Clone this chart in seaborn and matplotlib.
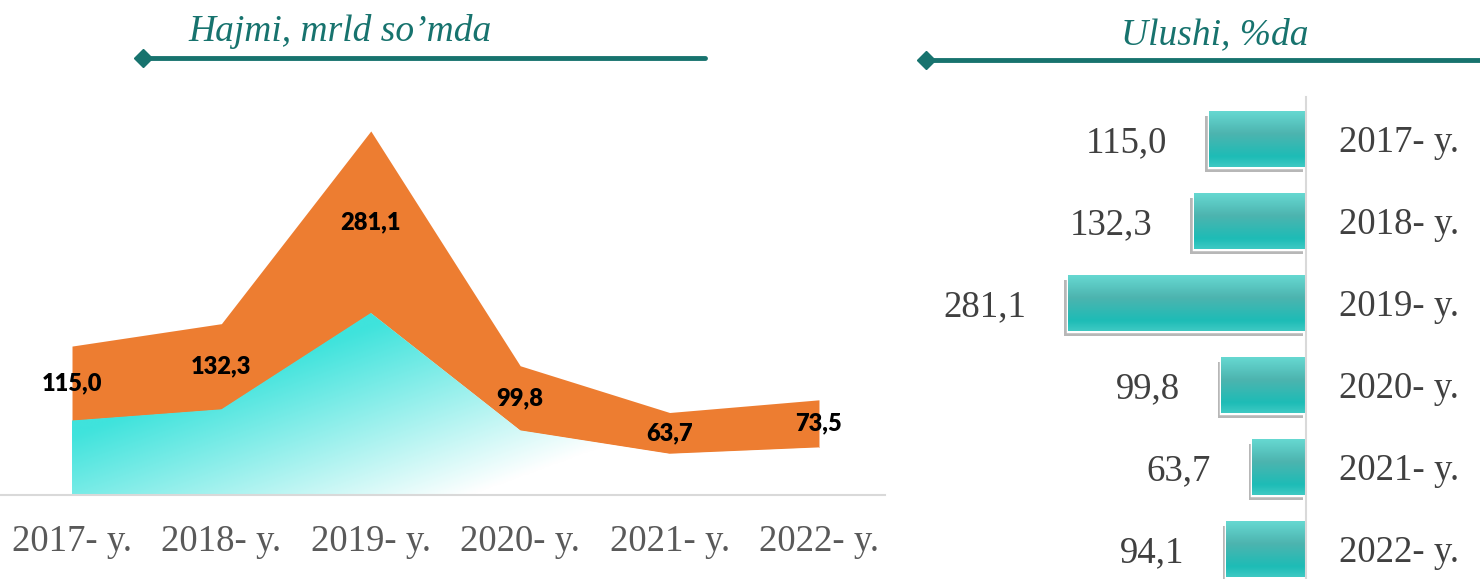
import numpy as np
import pandas as pd
import matplotlib
matplotlib.use("Agg")
import matplotlib.pyplot as plt
import seaborn as sns
from matplotlib.lines import Line2D
from matplotlib import patheffects as pe
from matplotlib.colors import to_rgb, LinearSegmentedColormap

# --- data ---
years = ['2017- y.', '2018- y.', '2019- y.', '2020- y.', '2021- y.', '2022- y.']
volume = [115.0, 132.3, 281.1, 99.8, 63.7, 73.5]
volume_labels = ['115,0', '132,3', '281,1', '99,8', '63,7', '73,5']
share = [115.0, 132.3, 281.1, 99.8, 63.7, 94.1]
share_labels = ['115,0', '132,3', '281,1', '99,8', '63,7', '94,1']
title_left = 'Hajmi, mrld so’mda'
title_right = 'Ulushi, %da'

# --- style ---
TEAL = '#17736e'
ORANGE = '#ED7D31'
CYAN = '#3fe3dc'
BAR = '#2cbdb7'
W, H = 1480, 579

sns.set_theme(style='white')
plt.rcParams['font.family'] = ['Liberation Serif', 'DejaVu Serif']

fig = plt.figure(figsize=(W / 100, H / 100), dpi=100, facecolor='white')

# --- left: stacked area ---
ax1 = fig.add_axes([0, 84 / H, 885 / W, 395 / H])
x = np.arange(len(years))
polys = ax1.stackplot(x, volume, volume, colors=[CYAN, ORANGE], linewidth=0)
polys[0].set_facecolor('none')

# diagonal cyan -> white gradient clipped to the lower area
ymax = max(volume)
nx, ny = 400, 200
u = np.linspace(0, 1, nx)[None, :]
v = 1 - np.linspace(0, 1, ny)[:, None]
s = 0.6 * u + 0.4 * v
f = np.clip((s - 0.27) / 0.45, 0, 1)[..., None]
rgb = np.array(to_rgb(CYAN))[None, None, :] * (1 - f) + f
im = ax1.imshow(rgb, extent=[x[0], x[-1], 0, ymax], origin='lower',
                aspect='auto', interpolation='bilinear', zorder=1)
im.set_clip_path(polys[0].get_paths()[0], ax1.transData)

for i, (val, lbl) in enumerate(zip(volume, volume_labels)):
    ax1.text(i, val * 1.5, lbl, ha='center', va='center', fontsize=17,
             fontweight='heavy', family=['Lato', 'DejaVu Sans'], color='black', zorder=5)

ax1.set_xlim(-0.482, 5.442)
ax1.set_ylim(0, 610)
ax1.set_xticks(x, years)
ax1.set_yticks([])
ax1.tick_params(axis='x', length=0, pad=21, labelsize=26.5, labelcolor='#595959')
for side in ['top', 'left', 'right']:
    ax1.spines[side].set_visible(False)
ax1.spines['bottom'].set_color('#d9d9d9')
ax1.spines['bottom'].set_linewidth(1.5)

# --- right: horizontal bars ---
ax2 = fig.add_axes([(1306 - 376) / W, 0, 376 / W, 482 / H])
df = pd.DataFrame({'year': years, 'share': share})
sns.barplot(data=df, x='share', y='year', orient='h', color=BAR, width=0.68,
            edgecolor='white', linewidth=2.5, saturation=1, ax=ax2)

bar_cmap = LinearSegmentedColormap.from_list(
    'bar', [(0, '#66d8d1'), (0.4, '#4db4af'), (0.82, '#1dbcb6'), (1, '#3ec9c3')])
grad = bar_cmap(np.linspace(0, 1, 64))[:, None, :3]
for p in ax2.patches:
    p.set_path_effects([pe.SimplePatchShadow(offset=(-2.5, -3.5), shadow_rgbFace='#707070', alpha=0.5),
                        pe.Normal()])
    x0, y0, w, h = p.get_x(), p.get_y(), p.get_width(), p.get_height()
    bim = ax2.imshow(grad, extent=(x0, x0 + w, y0 + h, y0), origin='upper',
                     aspect='auto', interpolation='bilinear', zorder=p.get_zorder() + 0.1)
    bim.set_clip_path(p)

for i, (val, lbl) in enumerate(zip(share, share_labels)):
    ax2.annotate(lbl, xy=(val, i), xytext=(-30, 0), textcoords='offset points',
                 ha='right', va='center_baseline', fontsize=26.5, color='#404040')

ax2.set_xlim(444, 0)
ax2.set_ylim(5.366, -0.512)
ax2.set_xlabel('')
ax2.set_ylabel('')
ax2.set_xticks([])
ax2.yaxis.tick_right()
ax2.tick_params(axis='y', length=0, pad=24, labelsize=26.5, labelcolor='#404040')
for side in ['top', 'left', 'bottom']:
    ax2.spines[side].set_visible(False)
ax2.spines['right'].set_color('#d9d9d9')
ax2.spines['right'].set_linewidth(1.5)

# --- titles with arrow lines ---
fig.text(340 / W, 1 - 41 / H, title_left, ha='center', va='baseline', fontsize=27,
         style='italic', color=TEAL)
fig.text(1215 / W, 1 - 44 / H, title_right, ha='center', va='baseline', fontsize=27,
         style='italic', color=TEAL)
fig.add_artist(Line2D([143 / W, 705 / W], [1 - 58 / H] * 2, color=TEAL, lw=3.5,
                      marker='D', markevery=[0], markersize=9, transform=fig.transFigure))
fig.add_artist(Line2D([926 / W, 1.0], [1 - 60 / H] * 2, color=TEAL, lw=3.5,
                      marker='D', markevery=[0], markersize=9, transform=fig.transFigure))

fig.savefig('out.png', dpi=100, facecolor='white')
